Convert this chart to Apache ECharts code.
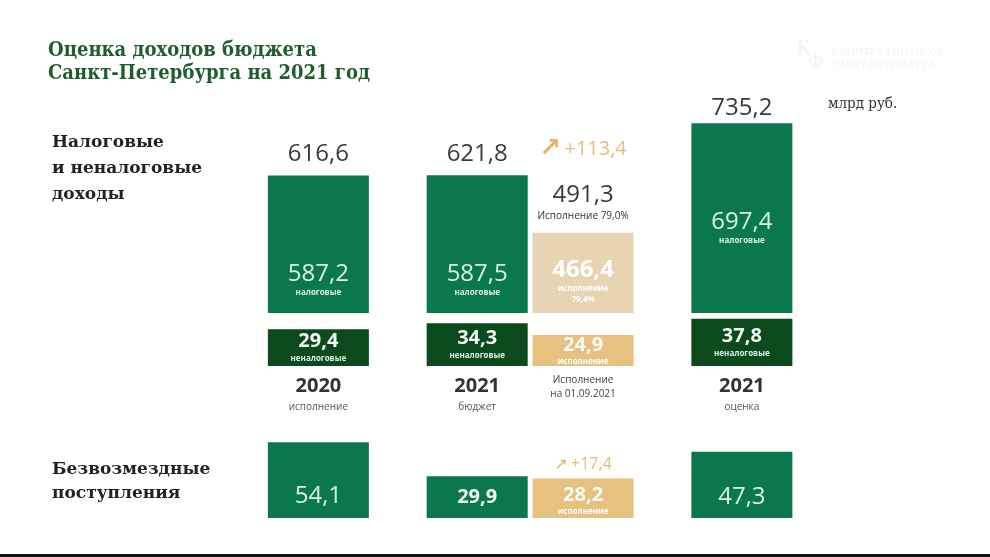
<!DOCTYPE html>
<html><head><meta charset="utf-8">
<script src="https://cdn.jsdelivr.net/npm/echarts/dist/echarts.min.js"></script>
<style>html,body{margin:0;padding:0;background:#fff}#c{width:990px;height:557px}</style>
</head><body><div id="c"></div>
<script>
// Columns: 2020 исполнение | 2021 бюджет | Исполнение на 01.09.2021 | 2021 оценка
const columns = ['2020 исполнение', '2021 бюджет', 'Исполнение на 01.09.2021', '2021 оценка'];
const columnYears = ['2020', '2021', '', '2021'];
const columnNotes = ['исполнение', 'бюджет', 'Исполнение\nна 01.09.2021', 'оценка'];
const taxRevenue = [587.2, 587.5, 466.4, 697.4];      // налоговые
const nonTaxRevenue = [29.4, 34.3, 24.9, 37.8];       // неналоговые
const totalRevenue = [616.6, 621.8, 491.3, 735.2];    // налоговые и неналоговые
const grants = [54.1, 29.9, 28.2, 47.3];              // безвозмездные поступления
const execShareTotal = '79,0%';
const execShareTax = '79,4%';
const growthTotal = 113.4;
const growthGrants = 17.4;

const fmt = v => v.toFixed(1).replace('.', ',');
const GREEN = '#0b774c', DARK = '#0b4a1c', TAN = '#e6d4b3', GOLD = '#e6c17f';
const MINT = '#d9f5e8', NUM = 'Open Sans';

// main axis: 2020 (col 0), gap, 2021 оценка (col 3); secondary axis: budget (col 1) & execution (col 2)
const mainCats = [columns[0], 'mid', columns[3]];
const secCats = ['s0', 's1', columns[1], columns[2], 's4', 's5'];
const mainOf = arr => [arr[0], '-', arr[3]];
const secOf = arr => ['-', '-', arr[1], arr[2], '-', '-'];
const colOfMain = i => (i === 0 ? 0 : 3);

const rich = {
  n: { fontFamily: NUM, fontSize: 24, color: MINT, lineHeight: 26 },
  nb: { fontFamily: NUM, fontSize: 24, fontWeight: 'bold', color: '#fff', lineHeight: 26 },
  m: { fontFamily: NUM, fontSize: 20, fontWeight: 'bold', color: '#f2fbf6', lineHeight: 22 },
  s: { fontFamily: NUM, fontSize: 8, fontWeight: 'bold', color: MINT, lineHeight: 12 },
  sw: { fontFamily: NUM, fontSize: 8, fontWeight: 'bold', color: '#fff', lineHeight: 11 },
  t: { fontFamily: NUM, fontSize: 24, color: '#3a3a3a', lineHeight: 26 },
  u: { fontFamily: NUM, fontSize: 10, color: '#333', lineHeight: 16 },
  a: { fontFamily: 'DejaVu Sans', fontSize: 26, fontWeight: 'bold', color: '#e0b56a', lineHeight: 64 },
  inc: { fontFamily: NUM, fontSize: 20, color: '#e2bd7c', lineHeight: 64 },
  a2: { fontFamily: 'DejaVu Sans', fontSize: 16, color: '#e0b56a', lineHeight: 20 },
  inc2: { fontFamily: NUM, fontSize: 16, color: '#e2bd7c', lineHeight: 20 },
  y: { fontFamily: NUM, fontSize: 20, fontWeight: 'bold', color: '#333', lineHeight: 26 },
  c: { fontFamily: NUM, fontSize: 10, color: '#555', lineHeight: 16 },
  c2: { fontFamily: NUM, fontSize: 10, color: '#444', lineHeight: 14 }
};

const hiddenX = (grid, cats, showLabels, fmtFn) => ({
  type: 'category', gridIndex: grid, data: cats, position: 'bottom',
  axisLine: { show: false }, axisTick: { show: false }, splitLine: { show: false },
  axisLabel: showLabels ? { show: true, interval: 0, margin: 7, formatter: fmtFn, rich: rich } : { show: false }
});
const hiddenY = (grid, min, max) => ({ type: 'value', gridIndex: grid, min: min, max: max, show: false, splitLine: { show: false } });

const base = { type: 'bar', barWidth: 101, barGap: '-100%', clip: true, silent: true };

const option = {
  animation: false,
  backgroundColor: '#fff',
  title: {
    text: 'Оценка доходов бюджета\nСанкт-Петербурга на 2021 год',
    left: 48, top: 39, padding: 0,
    textStyle: { fontFamily: 'DejaVu Serif Condensed', fontWeight: 'bold', fontSize: 20, color: '#1f5e2c', lineHeight: 23 }
  },
  grid: [
    { left: 212.5, right: 142.25, top: 122, height: 191, containLabel: false, outerBoundsMode: 'none' },
    { left: 212.5, right: 142.25, top: 316, height: 50, containLabel: false, outerBoundsMode: 'none' },
    { left: 212.5, right: 142.25, top: 434, height: 84, containLabel: false, outerBoundsMode: 'none' }
  ],
  xAxis: [
    hiddenX(0, mainCats, false), hiddenX(0, secCats, false),
    hiddenX(1, mainCats, true, (v, i) => i === 1 ? '' : `{y|${columnYears[colOfMain(i)]}}\n{c|${columnNotes[colOfMain(i)]}}`),
    hiddenX(1, secCats, true, (v, i) => {
      if (i === 2) return `{y|${columnYears[1]}}\n{c|${columnNotes[1]}}`;
      if (i === 3) return columnNotes[2].split('\n').map(l => `{c2|${l}}`).join('\n');
      return '';
    }),
    hiddenX(2, mainCats, false), hiddenX(2, secCats, false)
  ],
  yAxis: [hiddenY(0, 297, 700), hiddenY(1, 0, 40), hiddenY(2, 0, 60)],
  series: [
    // --- Налоговые (upper block)
    Object.assign({}, base, {
      name: 'налоговые', xAxisIndex: 0, yAxisIndex: 0,
      data: mainOf(taxRevenue).map((v, i) => v === '-' ? v : {
        value: v, label: i === 0 ? { position: 'insideBottom', distance: 14 } : { position: 'inside', offset: [0, 10] }
      }),
      itemStyle: { color: GREEN },
      label: { show: true, rich: rich, formatter: p => `{n|${fmt(p.value)}}\n{s|налоговые}` }
    }),
    Object.assign({}, base, {
      name: 'итого', xAxisIndex: 0, yAxisIndex: 0,
      data: mainOf(taxRevenue).map((v, i) => v === '-' ? v : { value: v, label: { distance: i === 0 ? 8 : 2 } }),
      itemStyle: { color: 'rgba(0,0,0,0)' },
      label: { show: true, position: 'top', rich: rich, formatter: p => `{t|${fmt(totalRevenue[colOfMain(p.dataIndex)])}}` }
    }),
    Object.assign({}, base, {
      name: 'налоговые 2021', xAxisIndex: 1, yAxisIndex: 0,
      data: secOf(taxRevenue).map((v, i) => v === '-' ? v : {
        value: v, itemStyle: { color: i === 2 ? GREEN : TAN },
        label: { position: 'insideBottom', distance: i === 2 ? 14 : 8 }
      }),
      label: { show: true, rich: rich, formatter: p => p.dataIndex === 2
        ? `{n|${fmt(p.value)}}\n{s|налоговые}`
        : `{nb|${fmt(p.value)}}\n{sw|исполнение}\n{sw|${execShareTax}}` }
    }),
    Object.assign({}, base, {
      name: 'итого 2021', xAxisIndex: 1, yAxisIndex: 0,
      data: secOf(taxRevenue).map((v, i) => v === '-' ? v : { value: v, label: { distance: i === 2 ? 8 : 9 } }),
      itemStyle: { color: 'rgba(0,0,0,0)' },
      label: { show: true, position: 'top', rich: rich, formatter: p => p.dataIndex === 2
        ? `{t|${fmt(totalRevenue[1])}}`
        : `{a|↗} {inc|+${fmt(growthTotal)}}\n{t|${fmt(totalRevenue[2])}}\n{u|Исполнение ${execShareTotal}}` }
    }),
    // --- Неналоговые (lower block)
    Object.assign({}, base, {
      name: 'неналоговые', xAxisIndex: 2, yAxisIndex: 1,
      data: mainOf(nonTaxRevenue), itemStyle: { color: DARK },
      label: { show: true, position: 'inside', rich: rich, formatter: p => `{m|${fmt(p.value)}}\n{s|неналоговые}` }
    }),
    Object.assign({}, base, {
      name: 'неналоговые 2021', xAxisIndex: 3, yAxisIndex: 1,
      data: secOf(nonTaxRevenue).map((v, i) => v === '-' ? v : { value: v, itemStyle: { color: i === 2 ? DARK : GOLD } }),
      label: { show: true, position: 'inside', rich: rich, formatter: p => p.dataIndex === 2
        ? `{m|${fmt(p.value)}}\n{s|неналоговые}`
        : `{m|${fmt(p.value)}}\n{sw|исполнение}` }
    }),
    // --- Безвозмездные поступления
    Object.assign({}, base, {
      name: 'безвозмездные', xAxisIndex: 4, yAxisIndex: 2,
      data: mainOf(grants).map((v, i) => v === '-' ? v : { value: v, label: { distance: i === 0 ? 9 : 8 } }),
      itemStyle: { color: GREEN },
      label: { show: true, position: 'insideBottom', rich: rich, formatter: p => `{n|${fmt(p.value)}}` }
    }),
    Object.assign({}, base, {
      name: 'безвозмездные 2021', xAxisIndex: 5, yAxisIndex: 2,
      data: secOf(grants).map((v, i) => v === '-' ? v : {
        value: v, itemStyle: { color: i === 2 ? GREEN : GOLD }, label: { distance: i === 2 ? 10 : 1 }
      }),
      label: { show: true, position: 'insideBottom', rich: rich, formatter: p => p.dataIndex === 2
        ? `{m|${fmt(p.value)}}`
        : `{m|${fmt(p.value)}}\n{sw|исполнение}` }
    }),
    Object.assign({}, base, {
      name: 'прирост', xAxisIndex: 5, yAxisIndex: 2,
      data: secOf(grants), itemStyle: { color: 'rgba(0,0,0,0)' },
      label: { show: true, position: 'top', distance: 4, rich: rich,
        formatter: p => p.dataIndex === 3 ? `{a2|↗} {inc2|+${fmt(growthGrants)}}` : '' }
    })
  ],
  graphic: [
    { type: 'text', left: 52, top: 130, silent: true,
      style: { text: 'Налоговые\nи неналоговые\nдоходы', font: 'bold 17px "DejaVu Serif"', fill: '#222', lineHeight: 26 } },
    { type: 'text', left: 52, top: 458, silent: true,
      style: { text: 'Безвозмездные\nпоступления', font: 'bold 17px "DejaVu Serif"', fill: '#222', lineHeight: 24 } },
    { type: 'text', left: 828, top: 97, silent: true,
      style: { text: 'млрд руб.', font: '15px "DejaVu Serif Condensed"', fill: '#333' } },
    { type: 'text', left: 796, top: 40, silent: true,
      style: { text: 'К', font: '20px "DejaVu Serif"', fill: '#f3f3f3' } },
    { type: 'text', left: 808, top: 54, silent: true,
      style: { text: 'Ф', font: '18px "DejaVu Serif"', fill: '#f3f3f3' } },
    { type: 'text', left: 832, top: 46, silent: true,
      style: { text: 'КОМИТЕТ ФИНАНСОВ\nСАНКТ-ПЕТЕРБУРГА', font: '9px "DejaVu Serif"', fill: '#f3f3f3', lineHeight: 13 } },
    { type: 'rect', silent: true, shape: { x: 0, y: 554, width: 990, height: 3 }, style: { fill: '#111' } }
  ]
};

const chart = echarts.init(document.getElementById('c'), null, { renderer: 'canvas' });
chart.setOption(option);
</script>
</body></html>
